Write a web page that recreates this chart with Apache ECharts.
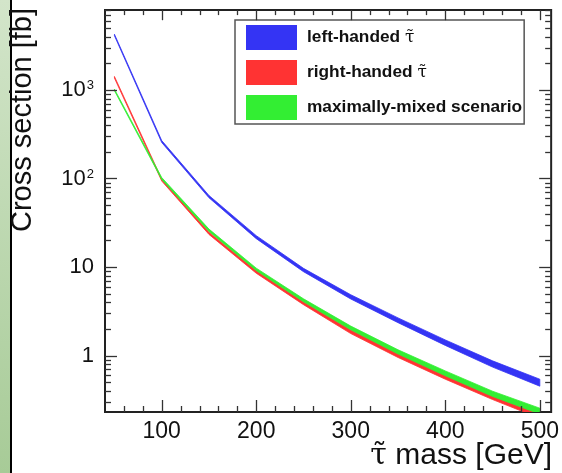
<!DOCTYPE html>
<html>
<head>
<meta charset="utf-8">
<script src="https://cdn.jsdelivr.net/npm/echarts@6/dist/echarts.min.js"></script>
<style>
  html, body { margin: 0; padding: 0; background: #ffffff; }
  #chart { width: 562px; height: 473px; }
</style>
</head>
<body>
<div id="chart"></div>
<script>
// Stau pair-production cross sections [fb] vs. stau mass [GeV], with uncertainty bands
const masses = [50, 100, 150, 200, 250, 300, 350, 400, 450, 500];

const leftHi  = [4260, 268, 64.2, 22.6, 9.65, 4.86, 2.66, 1.5, 0.87, 0.54];
const leftLo  = [4100, 255, 60.5, 20.9, 8.85, 4.35, 2.35, 1.3, 0.74, 0.45];

const rightHi = [1420, 98.5, 24.7, 9.1, 4.06, 1.95, 1.055, 0.61, 0.365, 0.227];
const rightLo = [1360, 93.6, 23.3, 8.5, 3.75, 1.77, 0.95, 0.54, 0.318, 0.195];

const mixedHi = [1020, 102.5, 26.8, 9.7, 4.37, 2.15, 1.16, 0.67, 0.395, 0.254];
const mixedLo = [980, 97.5, 25.2, 9.1, 4.04, 1.95, 1.04, 0.59, 0.345, 0.218];

const seriesNames = ['left-handed τ̃', 'right-handed τ̃', 'maximally-mixed scenario'];

// Axis ticks and labels
const xMajorTicks = [100, 200, 300, 400, 500];
const xMinorTicks = [60, 80, 120, 140, 160, 180, 220, 240, 260, 280, 320, 340, 360, 380, 420, 440, 460, 480];
const yMajorTicks = [1, 10, 100, 1000];
const yMajorLabels = ['1', '10', '{b|10}{s|2}', '{b|10}{s|3}'];
const yMinorTicks = [0.3, 0.4, 0.5, 0.6, 0.7, 0.8, 0.9,
                     2, 3, 4, 5, 6, 7, 8, 9,
                     20, 30, 40, 50, 60, 70, 80, 90,
                     200, 300, 400, 500, 600, 700, 800, 900,
                     2000, 3000, 4000, 5000, 6000, 7000, 8000];

const FONT = "'Liberation Sans', Arial, Helvetica, sans-serif";
const TAU_FONT = "'DejaVu Serif', 'DejaVu Sans', serif";
const TICK_COLOR = '#333';

// wrap the stau symbol so it is set in a font with proper combining-mark placement
function tauRich(s) {
  return s.replace('τ̃', '{t|τ̃}');
}

function bandSeries(name, color, lo, hi, z) {
  return {
    type: 'custom',
    name: name,
    coordinateSystem: 'cartesian2d',
    clip: true,
    silent: true,
    z: z,
    itemStyle: { color: color },
    encode: { x: 0, y: [1, 2] },
    data: masses.map((m, i) => [m, lo[i], hi[i]]),
    renderItem: function (params, api) {
      if (params.dataIndexInside !== 0) return null;
      const n = masses.length;
      const upper = [], lower = [];
      for (let j = 0; j < n; j++) {
        upper.push(api.coord([api.value(0, j), api.value(2, j)]));
        lower.push(api.coord([api.value(0, j), api.value(1, j)]));
      }
      return {
        type: 'polygon',
        shape: { points: upper.concat(lower.reverse()) },
        style: { fill: color, stroke: color, lineWidth: 0.8 }
      };
    }
  };
}

// Tick marks drawn on both sides of the frame
function xTickSeries() {
  const data = xMajorTicks.map(v => [v, 1, 12]).concat(xMinorTicks.map(v => [v, 1, 6]));
  return {
    type: 'custom', silent: true, clip: false, z: 10,
    data: data,
    encode: { x: 0, y: 1 },
    renderItem: function (params, api) {
      const cs = params.coordSys;
      const x = Math.round(api.coord([api.value(0), api.value(1)])[0]) + 0.5;
      const len = api.value(2);
      const yb = cs.y + cs.height, yt = cs.y;
      return {
        type: 'group',
        children: [
          { type: 'line', shape: { x1: x, y1: yb, x2: x, y2: yb - len }, style: { stroke: TICK_COLOR, lineWidth: 1.3 } },
          { type: 'line', shape: { x1: x, y1: yt, x2: x, y2: yt + len * 0.85 }, style: { stroke: TICK_COLOR, lineWidth: 1.3 } }
        ]
      };
    }
  };
}

function yTickSeries() {
  const data = yMajorTicks.map(v => [100, v, 12]).concat(yMinorTicks.map(v => [100, v, 6]));
  return {
    type: 'custom', silent: true, clip: false, z: 10,
    data: data,
    encode: { x: 0, y: 1 },
    renderItem: function (params, api) {
      const cs = params.coordSys;
      const y = Math.round(api.coord([api.value(0), api.value(1)])[1]) + 0.5;
      const len = api.value(2);
      const xl = cs.x, xr = cs.x + cs.width;
      return {
        type: 'group',
        children: [
          { type: 'line', shape: { x1: xl, y1: y, x2: xl + len, y2: y }, style: { stroke: TICK_COLOR, lineWidth: 1.3 } },
          { type: 'line', shape: { x1: xr, y1: y, x2: xr - len, y2: y }, style: { stroke: TICK_COLOR, lineWidth: 1.3 } }
        ]
      };
    }
  };
}

const chart = echarts.init(document.getElementById('chart'), null, { renderer: 'canvas' });

chart.setOption({
  animation: false,
  backgroundColor: '#ffffff',
  textStyle: { fontFamily: FONT },
  grid: {
    left: 105, top: 10, right: 10, bottom: 61,
    show: true, borderColor: '#222', borderWidth: 2, backgroundColor: 'transparent'
  },
  legend: {
    left: 235, top: 20,
    orient: 'vertical',
    icon: 'rect',
    itemWidth: 51, itemHeight: 25, itemGap: 10,
    padding: [5, 2, 4, 11],
    borderColor: '#555', borderWidth: 1.5,
    backgroundColor: '#ffffff',
    selectedMode: false,
    data: seriesNames,
    formatter: tauRich,
    textStyle: {
      fontFamily: FONT, fontSize: 17.3, fontWeight: 'bold', color: '#111', padding: [0, 0, 0, 5],
      rich: {
        t: { fontFamily: TAU_FONT, fontSize: 17, fontWeight: 'normal', color: '#111' }
      }
    }
  },
  xAxis: {
    type: 'value',
    min: 40, max: 512, interval: 20,
    axisLine: { show: false },
    axisTick: { show: false },
    splitLine: { show: false },
    axisLabel: {
      fontFamily: FONT, fontSize: 23, color: '#111', margin: 8,
      formatter: v => (xMajorTicks.indexOf(v) >= 0 ? String(v) : '')
    }
  },
  yAxis: {
    type: 'log', logBase: 10,
    min: 0.23, max: 8000,
    axisLine: { show: false },
    axisTick: { show: false },
    splitLine: { show: false },
    axisLabel: {
      fontFamily: FONT, fontSize: 22, color: '#111', margin: 11,
      formatter: function (v) {
        const lg = Math.log10(v);
        const k = Math.round(lg);
        if (Math.abs(lg - k) > 1e-6) return '';
        const i = yMajorTicks.indexOf(Math.pow(10, k));
        return i < 0 ? '' : yMajorLabels[i];
      },
      rich: {
        b: { fontFamily: FONT, fontSize: 22, color: '#111' },
        s: { fontFamily: FONT, fontSize: 13, color: '#111', verticalAlign: 'top', padding: [0, 0, 8, 1] }
      }
    }
  },
  graphic: [
    {
      type: 'rect', left: 0, top: 0, z: 100,
      shape: { x: 0, y: 0, width: 10, height: 473 },
      style: {
        fill: new echarts.graphic.LinearGradient(0, 0, 0, 1, [
          { offset: 0, color: '#d3e5ca' },
          { offset: 1, color: '#a7cb97' }
        ])
      }
    },
    { type: 'rect', left: 10, top: 0, z: 100, shape: { x: 0, y: 0, width: 2, height: 473 }, style: { fill: '#000' } },
    {
      type: 'text', x: 23, y: 8, rotation: Math.PI / 2, z: 100,
      style: { text: 'Cross section [fb]', font: '29px ' + FONT, fill: '#111', align: 'right', verticalAlign: 'middle' }
    },
    {
      type: 'text', x: 552, y: 456, z: 100,
      style: {
        text: tauRich('τ̃ mass [GeV]'),
        font: '30px ' + FONT, fill: '#111', align: 'right', verticalAlign: 'middle',
        rich: { t: { fontFamily: TAU_FONT, fontSize: 30, fill: '#111' } }
      }
    }
  ],
  series: [
    bandSeries(seriesNames[1], '#ff3333', rightLo, rightHi, 2),
    bandSeries(seriesNames[2], '#33ee33', mixedLo, mixedHi, 3),
    bandSeries(seriesNames[0], '#3434f4', leftLo, leftHi, 4),
    xTickSeries(),
    yTickSeries()
  ]
});
</script>
</body>
</html>
